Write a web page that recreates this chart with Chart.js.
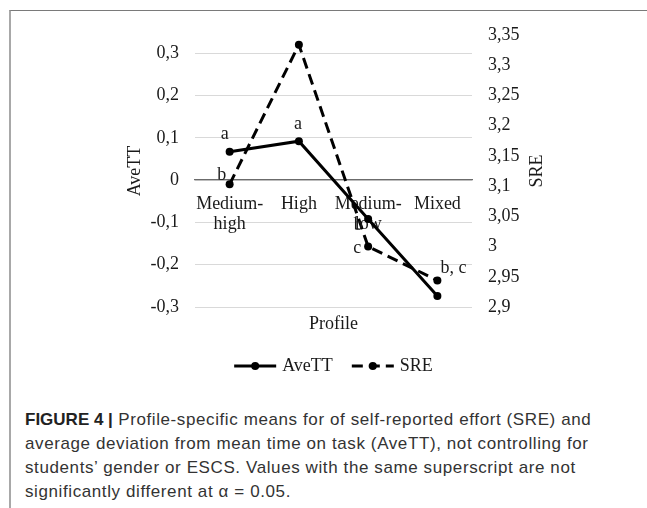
<!DOCTYPE html>
<html>
<head>
<meta charset="utf-8">
<script src="https://cdn.jsdelivr.net/npm/chart.js@4.4.1/dist/chart.umd.min.js"></script>
<style>
  html, body { margin: 0; padding: 0; background: #fff; }
  #wrap { position: relative; width: 647px; height: 508px; overflow: hidden; }
  #frame { position: absolute; left: 9px; top: 10px; width: 660px; height: 520px;
           border-top: 1.5px solid #7a7a7a; border-left: 2px solid #a8a8a8; }
  #chart { position: absolute; left: 0; top: 0; }
  #caption { position: absolute; left: 25px; top: 408px; margin: 0; white-space: nowrap;
             font-family: "Liberation Sans", Arial, sans-serif; font-size: 17px;
             line-height: 24px; color: #333; letter-spacing: 0.6px; }
  #caption b { color: #222; letter-spacing: 0; }
</style>
</head>
<body>
<div id="wrap">
  <div id="frame"></div>
  <canvas id="chart" width="647" height="395"></canvas>
  <p id="caption"><b>FIGURE 4 |</b> Profile-specific means for of self-reported effort (SRE) and<br>average deviation from mean time on task (AveTT), not controlling for<br>students’ gender or ESCS. Values with the same superscript are not<br>significantly different at α = 0.05.</p>
</div>
<script>
// chart data
const profiles = [['Medium-', 'high'], 'High', ['Medium-', 'low'], 'Mixed'];
const aveTT = [0.067, 0.092, -0.092, -0.274];
const sre = [3.103, 3.334, 3.0, 2.944];
const aveTTLetters = ['a', 'a', 'b', ''];
const sreLetters = ['b', '', 'c', 'b, c'];
const aveTTTicks = [-0.3, -0.2, -0.1, 0, 0.1, 0.2, 0.3];
const sreTicks = [2.9, 2.95, 3, 3.05, 3.1, 3.15, 3.2, 3.25, 3.3, 3.35];

const letters = [aveTTLetters, sreLetters];
// where each superscript sits relative to its point (px)
const letterOffsets = [
  [[-5, -17], [-1, -17], [-10, 6], [0, 0]],
  [[-8, -9], [0, 0], [-11, 2], [16, -12]]
];

const serif = '"Liberation Serif", "Times New Roman", serif';
Chart.defaults.font.family = serif;
Chart.defaults.font.size = 18;
Chart.defaults.color = '#1a1a1a';

function comma(v){
  return String(Number(v.toFixed(2))).replace('.', ',');
}

const markLetters = {
  id: 'markLetters',
  afterDatasetsDraw(chart){
    const ctx = chart.ctx;
    ctx.save();
    ctx.font = '18px ' + serif;
    ctx.fillStyle = '#1a1a1a';
    ctx.textAlign = 'center';
    ctx.textBaseline = 'middle';
    letters.forEach(function(list, di){
      const meta = chart.getDatasetMeta(di);
      list.forEach(function(txt, i){
        if (!txt) return;
        const pt = meta.data[i];
        const off = letterOffsets[di][i];
        ctx.fillText(txt, pt.x + off[0], pt.y + off[1]);
      });
    });
    ctx.restore();
  }
};

const sideTitle = {
  id: 'sideTitle',
  afterDraw(chart){
    const ctx = chart.ctx;
    const area = chart.chartArea;
    ctx.save();
    ctx.font = '18px ' + serif;
    ctx.fillStyle = '#1a1a1a';
    ctx.textAlign = 'center';
    ctx.textBaseline = 'middle';
    ctx.translate(chart.scales.y1.left + 65, (area.top + area.bottom) / 2);
    ctx.rotate(-Math.PI / 2);
    ctx.fillText('SRE', 0, 0);
    ctx.restore();
  }
};

const lineLegend = {
  id: 'lineLegend',
  afterDraw(chart){
    const ctx = chart.ctx;
    const area = chart.chartArea;
    const y = 366, lineLen = 42, textGap = 6, itemGap = 19;
    ctx.save();
    ctx.font = '18px ' + serif;
    const items = chart.data.datasets.map(function(ds){
      return { ds: ds, w: ctx.measureText(ds.label).width };
    });
    const total = items.reduce(function(s, it){ return s + lineLen + textGap + it.w; }, 0) + itemGap * (items.length - 1);
    let x = (area.left + area.right) / 2 - total / 2;
    items.forEach(function(it){
      const ds = it.ds;
      ctx.strokeStyle = ds.borderColor;
      ctx.lineWidth = ds.borderWidth;
      ctx.setLineDash(ds.borderDash || []);
      ctx.beginPath();
      ctx.moveTo(x, y);
      ctx.lineTo(x + lineLen, y);
      ctx.stroke();
      ctx.setLineDash([]);
      ctx.fillStyle = ds.pointBackgroundColor;
      ctx.beginPath();
      ctx.arc(x + lineLen / 2, y, ds.pointRadius, 0, Math.PI * 2);
      ctx.fill();
      ctx.fillStyle = '#1a1a1a';
      ctx.textAlign = 'left';
      ctx.textBaseline = 'middle';
      ctx.fillText(ds.label, x + lineLen + textGap, y);
      x += lineLen + textGap + it.w + itemGap;
    });
    ctx.restore();
  }
};

new Chart(document.getElementById('chart'), {
  type: 'line',
  data: {
    labels: profiles,
    datasets: [
      {
        label: 'AveTT',
        data: aveTT,
        yAxisID: 'y',
        borderColor: '#000',
        borderWidth: 3,
        pointRadius: 4,
        pointBackgroundColor: '#000',
        pointBorderColor: '#000',
        pointBorderWidth: 0,
        tension: 0
      },
      {
        label: 'SRE',
        data: sre,
        yAxisID: 'y1',
        borderColor: '#000',
        borderWidth: 3,
        borderDash: [11, 6],
        pointRadius: 4,
        pointBackgroundColor: '#000',
        pointBorderColor: '#000',
        pointBorderWidth: 0,
        tension: 0
      }
    ]
  },
  options: {
    responsive: false,
    animation: false,
    devicePixelRatio: 1,
    layout: { padding: { left: 120, right: 0, top: 35, bottom: 58 } },
    plugins: {
      legend: { display: false },
      tooltip: { enabled: false }
    },
    scales: {
      x: {
        type: 'category',
        position: { y: 0 },
        offset: true,
        grid: { display: false, drawTicks: false },
        border: { display: true, color: '#6b6b6b', width: 1.3 },
        ticks: { padding: 14, maxRotation: 0, autoSkip: false, font: { size: 18, lineHeight: 1.1 } }
      },
      x2: {
        type: 'category',
        position: 'bottom',
        offset: true,
        grid: { display: false, drawTicks: false },
        border: { display: false },
        ticks: { display: false },
        title: { display: true, text: 'Profile', font: { size: 18 }, padding: { top: 0, bottom: 2 } },
        afterFit(scale){ scale.height = 30; }
      },
      y: {
        position: 'left',
        min: -0.3,
        max: 0.343,
        afterBuildTicks(scale){ scale.ticks = aveTTTicks.map(function(v){ return { value: v }; }); },
        ticks: { padding: 16, callback: function(v){ return comma(v); } },
        grid: { color: '#d9d9d9', lineWidth: 1, drawTicks: false },
        border: { display: false },
        title: { display: true, text: 'AveTT', font: { size: 18 }, padding: { top: 4, bottom: 0 } },
        afterFit(scale){ scale.width = 75; }
      },
      y1: {
        position: 'right',
        min: 2.9,
        max: 3.35,
        afterBuildTicks(scale){ scale.ticks = sreTicks.map(function(v){ return { value: v }; }); },
        ticks: { padding: 16, callback: function(v){ return comma(v); } },
        grid: { display: false, drawTicks: false },
        border: { display: false },
        afterFit(scale){ scale.width = 175; }
      }
    }
  },
  plugins: [markLetters, sideTitle, lineLegend]
});
</script>
</body>
</html>
